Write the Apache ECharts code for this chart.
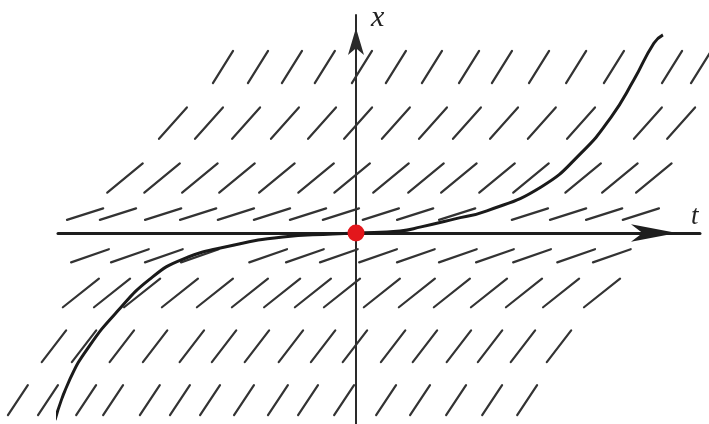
<!DOCTYPE html>
<html>
<head>
<meta charset="utf-8">
<script src="https://cdn.jsdelivr.net/npm/echarts@6/dist/echarts.min.js"></script>
<style>
  html, body { margin: 0; padding: 0; background: #fff; }
  #chart { width: 709px; height: 424px; }
</style>
</head>
<body>
<div id="chart"></div>
<script>
// direction field: one row per x level, slope of the little segments (dx/dt) per row
const rowX = [2.99, 1.98, 0.99, 0.34, -0.41, -1.08, -2.04, -3.01];
const rowSlope = [1.01, 0.71, 0.52, 0.20, 0.22, 0.50, 0.82, 0.95];

// t positions of the segments in each row (gaps where the solution curve passes)
const rowT = [
  [-3.80, -2.80, -1.83, -0.89, 0.17, 1.14, 2.17, 3.23, 4.17, 5.23, 6.29, 7.37, 9.03, 9.86],
  [-5.23, -4.20, -3.14, -2.03, -0.97, 0.06, 1.14, 2.20, 3.17, 4.23, 5.31, 6.43, 8.34, 9.29],
  [-6.60, -5.54, -4.46, -3.40, -2.26, -1.14, -0.11, 1.00, 2.00, 2.94, 4.03, 5.00, 6.49, 7.54, 8.51],
  [-7.74, -6.80, -5.51, -4.51, -3.43, -2.40, -1.37, -0.43, 0.71, 1.69, 2.89, 4.97, 6.06, 7.09, 8.14],
  [-7.60, -6.46, -5.49, -4.46, -2.51, -1.46, -0.49, 0.63, 1.71, 2.91, 3.97, 5.03, 6.29, 7.31],
  [-7.86, -6.97, -6.11, -5.03, -4.03, -3.03, -2.11, -1.23, -0.40, 0.74, 1.74, 2.74, 3.80, 4.80, 5.86, 7.03],
  [-8.63, -7.77, -6.69, -5.74, -4.69, -3.77, -2.83, -1.86, -0.94, -0.03, 1.06, 1.97, 2.94, 3.83, 4.77, 5.80],
  [-9.66, -8.80, -7.71, -6.94, -5.89, -5.03, -4.17, -3.20, -2.23, -1.37, -0.34, 0.86, 1.83, 2.86, 3.89, 4.89]
];

// solution curve through the origin
const curveT = [-8.60, -8.17, -7.60, -6.83, -5.89, -4.94, -3.51, -2.09, -0.66, 0, 1.26, 1.86, 2.80, 3.74, 5.29, 6.43, 7.29, 7.94, 8.51, 8.77];
const curveX = [-3.37, -2.63, -2.02, -1.42, -0.83, -0.47, -0.22, -0.07, -0.02, 0, 0.036, 0.11, 0.25, 0.40, 0.83, 1.44, 2.09, 2.76, 3.42, 3.57];

const equilibrium = [[0, 0]];

// drawn length (px) of the segments in each row
const segLen = [38, 42, 46, 38, 40, 46, 40, 36];

const fieldData = [];
rowT.forEach((ts, r) => {
  ts.forEach(t => fieldData.push([t, rowX[r], rowSlope[r], r]));
});
const curveData = curveT.map((t, i) => [t, curveX[i]]);

const chart = echarts.init(document.getElementById('chart'));

const option = {
  animation: false,
  grid: { left: 58, right: 9, top: 15, bottom: 0 },
  xAxis: {
    type: 'value',
    min: -8.514,
    max: 9.829,
    name: 't',
    nameLocation: 'end',
    nameGap: -9,
    nameTextStyle: {
      fontFamily: 'Liberation Serif',
      fontStyle: 'italic',
      fontSize: 27,
      color: '#222',
      align: 'left',
      verticalAlign: 'bottom',
      padding: [0, 0, 3, 0]
    },
    axisLine: {
      onZero: true,
      lineStyle: { color: '#1e1e1e', width: 3 },
      symbol: ['none', 'arrow'],
      symbolSize: [13, 46],
      symbolOffset: [0, -23]
    },
    axisTick: { show: false },
    axisLabel: { show: false },
    splitLine: { show: false }
  },
  yAxis: {
    type: 'value',
    min: -3.441,
    max: 3.928,
    name: 'x',
    nameLocation: 'end',
    nameGap: -18,
    nameTextStyle: {
      fontFamily: 'Liberation Serif',
      fontStyle: 'italic',
      fontSize: 30,
      color: '#222',
      align: 'left',
      verticalAlign: 'bottom',
      padding: [0, 0, 0, 15]
    },
    axisLine: {
      onZero: true,
      lineStyle: { color: '#2a2a2a', width: 2 },
      symbol: ['none', 'arrow'],
      symbolSize: [12, 27],
      symbolOffset: [0, -13]
    },
    axisTick: { show: false },
    axisLabel: { show: false },
    splitLine: { show: false }
  },
  series: [
    {
      type: 'custom',
      data: fieldData,
      clip: false,
      renderItem: function (params, api) {
        const t = api.value(0), x = api.value(1), k = api.value(2);
        const len = segLen[api.value(3)];
        const c = api.coord([t, x]);
        const d = api.coord([t + 1, x + k]);
        const dx = d[0] - c[0], dy = d[1] - c[1];
        const n = Math.sqrt(dx * dx + dy * dy);
        const ux = dx / n * len / 2, uy = dy / n * len / 2;
        return {
          type: 'line',
          shape: { x1: c[0] - ux, y1: c[1] - uy, x2: c[0] + ux, y2: c[1] + uy },
          style: { stroke: '#333', lineWidth: 2.2, lineCap: 'round' }
        };
      }
    },
    {
      type: 'line',
      data: curveData,
      smooth: 0.5,
      clip: false,
      showSymbol: false,
      lineStyle: { color: '#1a1a1a', width: 3 },
      z: 3
    },
    {
      type: 'scatter',
      data: equilibrium,
      symbolSize: 17,
      itemStyle: { color: '#e3171c', opacity: 1 },
      z: 5
    }
  ]
};

chart.setOption(option);
</script>
</body>
</html>
